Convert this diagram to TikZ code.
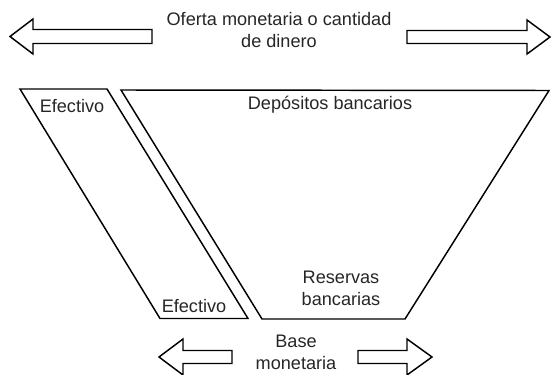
\documentclass[tikz,border=0pt]{standalone}
\usepackage{fontspec}
\setmainfont{Liberation Sans}
\begin{document}
\begin{tikzpicture}[x=0.75pt,y=-0.75pt,
  outline/.style={draw=black, line width=1.1pt, line join=miter},
  bigarrow/.style={draw=black, line width=1.1pt, line join=miter, fill=white},
  lbl/.style={font=\fontsize{13.6}{17}\selectfont, align=center, inner sep=0pt, text=black!85}]
\useasboundingbox (0,0) rectangle (552,374);
% top arrows
\draw[bigarrow] (152,29.5) -- (33,29.5) -- (33,19) -- (10,36.5) -- (33,54) -- (33,43.5) -- (152,43.5) -- cycle;
\draw[bigarrow] (407,30.5) -- (527,30.5) -- (527,20) -- (550,37) -- (527,54) -- (527,43.5) -- (407,43.5) -- cycle;
% shapes
\draw[outline] (20,89) -- (107,89) -- (248,318.5) -- (160,318.5) -- cycle;
\draw[outline] (121,90) -- (549,90.5) -- (405,319) -- (262,319) -- cycle;
% bottom arrows
\draw[bigarrow] (232,350.5) -- (183,350.5) -- (183,339) -- (159,357) -- (183,375) -- (183,363.5) -- (232,363.5) -- cycle;
\draw[bigarrow] (358,350.5) -- (407,350.5) -- (407,339) -- (432,357) -- (407,375) -- (407,363.5) -- (358,363.5) -- cycle;
% labels
\node[lbl] (oferta) at (279,30) {Oferta monetaria o cantidad\\de dinero};
\node[lbl] (efec1) at (72,106) {Efectivo};
\node[lbl] (depos) at (330,105) {Depósitos bancarios};
\node[lbl] (reserv) at (341,288.5) {Reservas\\bancarias};
\node[lbl] (efec2) at (194,306) {Efectivo};
\node[lbl] (base) at (296,352.5) {Base\\monetaria};
\end{tikzpicture}
\end{document}
